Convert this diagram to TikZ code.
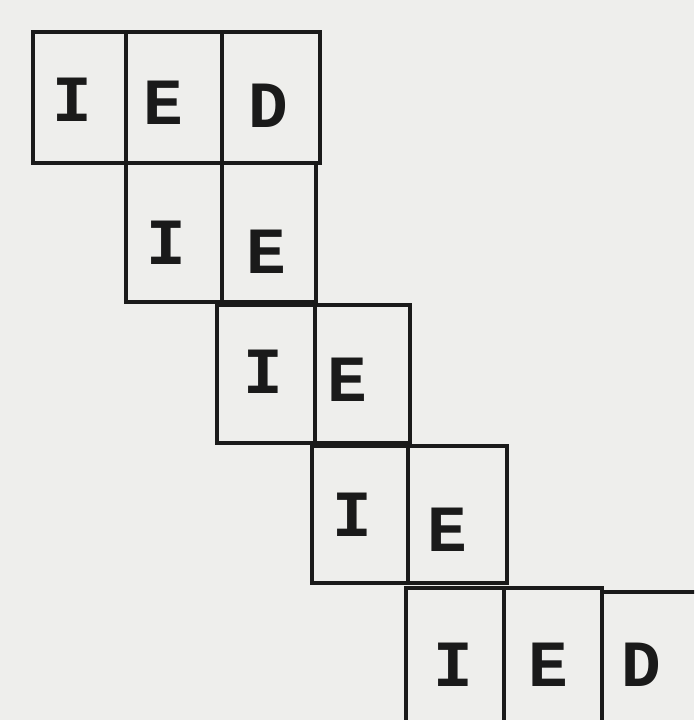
\documentclass[tikz,border=0pt]{standalone}
\usepackage{fontspec}
\newfontfamily\letterfont{Liberation Mono}
\definecolor{paper}{HTML}{EEEEEC}
\definecolor{ink}{HTML}{1A1A1A}
\begin{document}
\begin{tikzpicture}[x=1pt,y=-1pt,
  cell/.style={draw=ink,line width=3.4pt},
  letter/.style={font=\letterfont\bfseries\fontsize{66}{66}\selectfont,text=ink,inner sep=0pt}]
\fill[paper] (0,0) rectangle (694,720);
\useasboundingbox (0,0) rectangle (694,720);
\clip (0,0) rectangle (694,720);
% row 1
\draw[cell] (33,32) rectangle (126,163);
\draw[cell] (126,32) rectangle (222,163);
\draw[cell] (222,32) rectangle (320,163);
\node[letter] (r1a) at (72,100) {I};
\node[letter] (r1b) at (163,103) {E};
\node[letter] (r1c) at (268,106) {D};
% row 2
\draw[cell] (126,163) rectangle (222,302);
\draw[cell] (222,163) rectangle (316,302);
\node[letter] (r2a) at (166,243) {I};
\node[letter] (r2b) at (266,252) {E};
% row 3
\draw[cell] (217,305) rectangle (315,443);
\draw[cell] (315,305) rectangle (410,443);
\node[letter] (r3a) at (263,372) {I};
\node[letter] (r3b) at (347,380) {E};
% row 4
\draw[cell] (312,446) rectangle (408,583);
\draw[cell] (408,446) rectangle (507,583);
\node[letter] (r4a) at (352,515) {I};
\node[letter] (r4b) at (447,530) {E};
% row 5
\draw[cell] (406,588) rectangle (504,740);
\draw[cell] (504,588) rectangle (602,740);
\draw[cell] (602,592) rectangle (720,740);
\node[letter] (r5a) at (453,665) {I};
\node[letter] (r5b) at (548,665) {E};
\node[letter] (r5c) at (641,665) {D};
\end{tikzpicture}
\end{document}
